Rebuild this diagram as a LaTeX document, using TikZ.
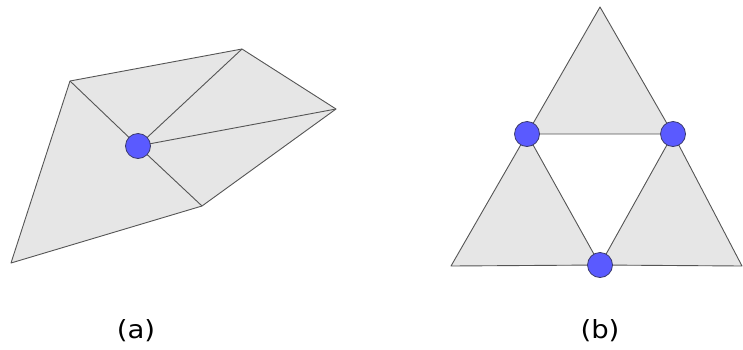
\documentclass[tikz,border=0pt]{standalone}
\usepackage{fontspec}
\setmainfont{DejaVu Sans}
\definecolor{facefill}{HTML}{E6E6E6}
\definecolor{edgecol}{HTML}{555555}
\definecolor{vertfill}{HTML}{5A5AFF}
\definecolor{vertline}{HTML}{3A3A6A}
\begin{document}
\begin{tikzpicture}[x=1pt,y=-1pt,
  face/.style={fill=facefill,draw=edgecol,line width=0.9pt,line join=round},
  edge/.style={draw=edgecol,line width=0.9pt},
  vert/.style={circle,fill=vertfill,draw=vertline,line width=0.8pt,minimum size=25pt,inner sep=0pt},
  lab/.style={font=\fontsize{25}{30}\selectfont,xscale=1.1,inner sep=0pt}]
\useasboundingbox (0,0) rectangle (743,349);
% (a)
\coordinate (A) at (70,81);
\coordinate (B) at (242,49);
\coordinate (C) at (336,109);
\coordinate (D) at (202,206);
\coordinate (E) at (11,263);
\coordinate (P) at (138,146);
\path[face] (E) -- (A) -- (B) -- (C) -- (D) -- cycle;
\draw[edge] (A) -- (P) -- (D);
\draw[edge] (B) -- (P) -- (C);
\node[vert] (p) at (P) {};
\node[lab] (la) at (136,331) {(a)};
% (b)
\coordinate (T) at (600,7);
\coordinate (L) at (527,134);
\coordinate (R) at (673,134);
\coordinate (BL) at (451,266);
\coordinate (BM) at (600,265);
\coordinate (BR) at (742,266);
\path[face] (T) -- (R) -- (L) -- cycle;
\path[face] (L) -- (BM) -- (BL) -- cycle;
\path[face] (R) -- (BR) -- (BM) -- cycle;
\node[vert] (l) at (L) {};
\node[vert] (r) at (R) {};
\node[vert] (m) at (BM) {};
\node[lab] (lb) at (600,331) {(b)};
\end{tikzpicture}
\end{document}
